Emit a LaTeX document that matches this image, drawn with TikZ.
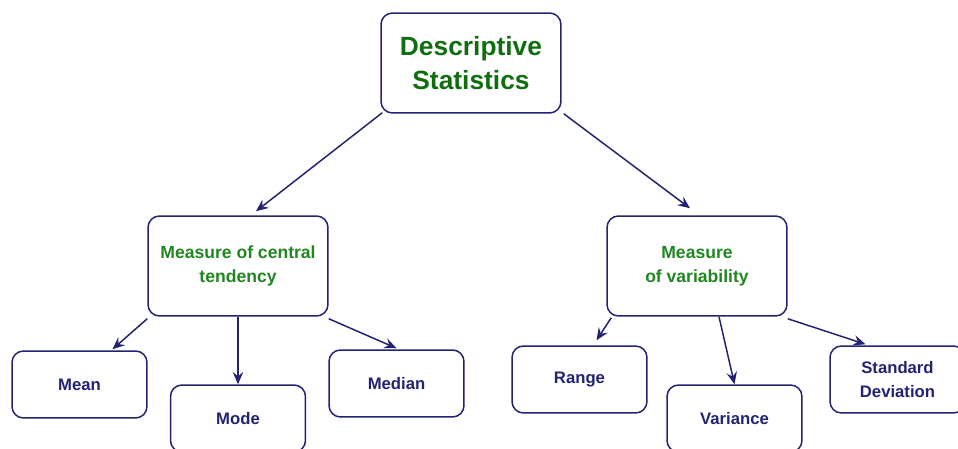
\documentclass[tikz,border=0pt]{standalone}
\usepackage{fontspec}
\setmainfont{Liberation Sans}
\usetikzlibrary{shapes,backgrounds}
\usetikzlibrary{arrows,arrows.meta}
\definecolor{navy}{RGB}{35,35,115}
\definecolor{titlegreen}{RGB}{16,110,16}
\definecolor{subgreen}{RGB}{32,135,32}

\begin{document}
\begin{tikzpicture}[x=0.02cm,y=-0.02cm,
  box/.style={draw=navy,line width=0.85pt,rounded corners=6.5pt,fill=white,align=center,inner sep=0pt},
  topbox/.style={box,minimum width=3.6cm,minimum height=2cm,text=titlegreen,font=\bfseries\fontsize{15}{19.3}\selectfont},
  midbox/.style={box,minimum width=3.6cm,minimum height=2cm,text=subgreen,font=\bfseries\fontsize{10}{13.6}\selectfont},
  leafbox/.style={box,minimum width=2.7cm,minimum height=1.34cm,text=navy,font=\bfseries\fontsize{9.5}{13.6}\selectfont},
  link/.style={-{Stealth[length=7pt,width=6pt,inset=2.5pt]},draw=navy,line width=0.85pt}]
\clip (0,0) rectangle (958,449);
\node[topbox] (root) at (471,63) {Descriptive\\Statistics};
\node[midbox] (mct) at (238,266) {Measure of central\\tendency};
\node[midbox] (mv) at (697,266) {Measure\\of variability};
\node[leafbox] (mean) at (79.5,384.5) {Mean};
\node[leafbox] (mode) at (238,418.5) {Mode};
\node[leafbox] (median) at (396.5,383.5) {Median};
\node[leafbox] (range) at (579.5,379.5) {Range};
\node[leafbox] (variance) at (734.5,418.5) {Variance};
\node[leafbox] (sd) at (897.5,379.5) {Standard\\Deviation};

\draw[link] ([shift={(2,-1)}]root.south west) -- ([shift={(18,-4)}]mct.north);
\draw[link] ([shift={(2,0)}]root.south east) -- ([shift={(-7,-7)}]mv.north);
\draw[link] ([shift={(0,2)}]mct.south west) -- ([shift={(33,-1)}]mean.north);
\draw[link] (mct.south) -- (mode.north);
\draw[link] ([shift={(0,2)}]mct.south east) -- ([shift={(0,-1)}]median.north);
\draw[link] ([shift={(5,1)}]mv.south west) -- ([shift={(17,-5)}]range.north);
\draw[link] ([shift={(22,0)}]mv.south) -- (variance.north);
\draw[link] ([shift={(0,2)}]mv.south east) -- ([shift={(-32,-1)}]sd.north);
\end{tikzpicture}
\end{document}
